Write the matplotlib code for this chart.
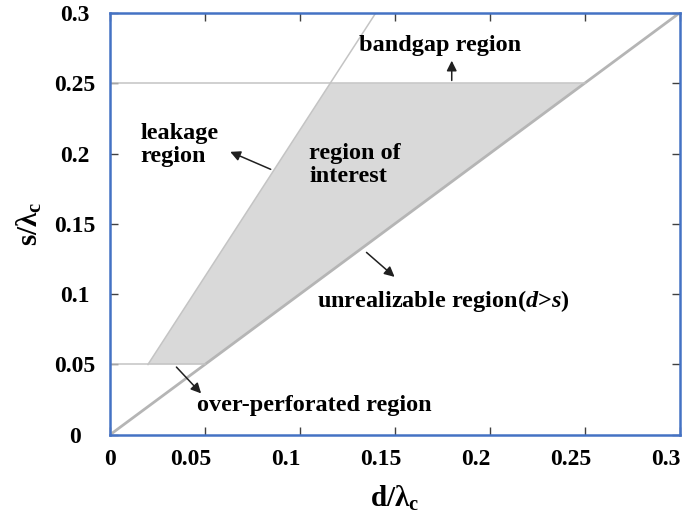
import matplotlib
matplotlib.use("Agg")
import matplotlib.pyplot as plt
from matplotlib.transforms import ScaledTranslation
import numpy as np

# region boundaries (d/lambda_c, s/lambda_c)
diag_d = [0, 0.3]
diag_s = [0, 0.3]
leak_d = [0.02, 0.14]
leak_s = [0.05, 0.3]
bandgap_d = [0, 0.25]
bandgap_s = [0.25, 0.25]
perf_d = [0, 0.05]
perf_s = [0.05, 0.05]
roi_d = [0.02, 0.05, 0.25, 0.116]
roi_s = [0.05, 0.05, 0.25, 0.25]
ticks = [0, 0.05, 0.1, 0.15, 0.2, 0.25, 0.3]
tick_labels = ["0", "0.05", "0.1", "0.15", "0.2", "0.25", "0.3"]

plt.rcParams['font.family'] = ['Liberation Serif', 'DejaVu Serif']
plt.rcParams['mathtext.fontset'] = 'custom'
plt.rcParams['mathtext.rm'] = 'Liberation Serif:bold'
plt.rcParams['mathtext.it'] = 'Liberation Serif:italic:bold'
plt.rcParams['mathtext.bf'] = 'Liberation Serif:bold'

fig = plt.figure(figsize=(6.83, 5.17), dpi=100)
ax = fig.add_axes([0.161, 0.159, 0.834, 0.816])

ax.fill(roi_d, roi_s, color='#d9d9d9', lw=0, zorder=1)
ax.plot(diag_d, diag_s, color='#b5b5b5', lw=2, zorder=2)
ax.plot(leak_d, leak_s, color='#c4c4c4', lw=1.1, zorder=2)
ax.plot(bandgap_d, bandgap_s, color='#c4c4c4', lw=1.1, zorder=2)
ax.plot(perf_d, perf_s, color='#c4c4c4', lw=1.1, zorder=2)

ax.set_xlim(0, 0.3)
ax.set_ylim(0, 0.3)
ax.set_xticks(ticks)
ax.set_yticks(ticks)
ax.set_xticklabels(tick_labels, fontsize=17, fontweight='bold')
ax.set_yticklabels(tick_labels, fontsize=17, fontweight='bold', ha='center')
ax.tick_params(direction='in', length=6, width=1, color='#404040',
               top=True, right=True)
ax.tick_params(axis='x', pad=10)
ax.tick_params(axis='y', pad=25)
# the x labels sit a bit left of their ticks in the original
for lab in ax.get_xticklabels()[1:]:
    lab.set_transform(lab.get_transform() +
                      ScaledTranslation(-14 / 100, 0, fig.dpi_scale_trans))
for sp in ax.spines.values():
    sp.set_color('#4472c4')
    sp.set_linewidth(1.8)

ax.set_xlabel('d/λ$_{\\rm c}$', fontsize=21, fontweight='bold')
ax.set_ylabel('s/λ$_{\\rm c}$', fontsize=21, fontweight='bold')
ax.xaxis.set_label_coords(0.5, -0.115)
ax.yaxis.set_label_coords(-0.115, 0.5)

arr = dict(arrowstyle='-|>', color='#202020', lw=1.1, mutation_scale=15)
fs = 17.5
ax.text(0.174, 0.277, 'bandgap region', fontsize=fs, fontweight='bold',
        ha='center', va='center')
ax.annotate('', xy=(0.18, 0.268), xytext=(0.18, 0.25), arrowprops=arr)

ax.text(0.016, 0.206, 'leakage\nregion', fontsize=fs, fontweight='bold',
        ha='left', va='center', linespacing=1.1)
ax.annotate('', xy=(0.062, 0.202), xytext=(0.086, 0.188), arrowprops=arr)

ax.text(0.105, 0.192, 'region of\ninterest', fontsize=fs, fontweight='bold',
        ha='left', va='center', linespacing=1.1)

ax.text(0.109, 0.0955, r'unrealizable region($d$>$s$)', fontsize=fs,
        fontweight='bold', ha='left', va='center')
ax.annotate('', xy=(0.151, 0.111), xytext=(0.134, 0.131), arrowprops=arr)

ax.text(0.046, 0.021, 'over-perforated region', fontsize=fs,
        fontweight='bold', ha='left', va='center')
ax.annotate('', xy=(0.049, 0.028), xytext=(0.034, 0.0496), arrowprops=arr)

fig.savefig('out.png', dpi=100)
